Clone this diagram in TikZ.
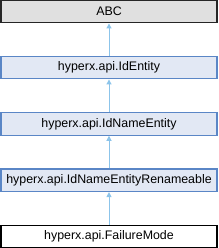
\documentclass[tikz,border=0pt]{standalone}
\usepackage{fontspec}
\setmainfont{Liberation Sans}
\usetikzlibrary{arrows.meta}
\definecolor{boxfill}{HTML}{E2E8F4}
\definecolor{boxline}{HTML}{5A86C6}
\definecolor{grayfill}{HTML}{E0E0E0}
\definecolor{edgecol}{HTML}{8CC4EA}
\begin{document}
\begin{tikzpicture}[x=1pt,y=1pt,
  cls/.style={draw=boxline,fill=boxfill,line width=1.2pt,minimum width=216pt,minimum height=22.5pt,inner sep=0pt,font=\fontsize{12.4}{14}\selectfont},
  graycls/.style={cls,draw=black!85,fill=grayfill},
  curcls/.style={cls,draw=black,fill=white},
  inh/.style={draw=edgecol,line width=1pt,-{Triangle[width=5pt,length=5pt]}}]
\useasboundingbox (0,0) rectangle (218,-248);
\node[graycls] (abc) at (109,-11.6) {ABC};
\node[cls] (ide) at (109,-67.6) {hyperx.api.IdEntity};
\node[cls] (idn) at (109,-123.9) {hyperx.api.IdNameEntity};
\node[cls] (idr) at (109,-180.2) {hyperx.api.IdNameEntityRenameable};
\node[curcls] (fm) at (109,-236.4) {hyperx.api.FailureMode};
\draw[inh] (ide) -- (abc);
\draw[inh] (idn) -- (ide);
\draw[inh] (idr) -- (idn);
\draw[inh] (fm) -- (idr);
\end{tikzpicture}
\end{document}
